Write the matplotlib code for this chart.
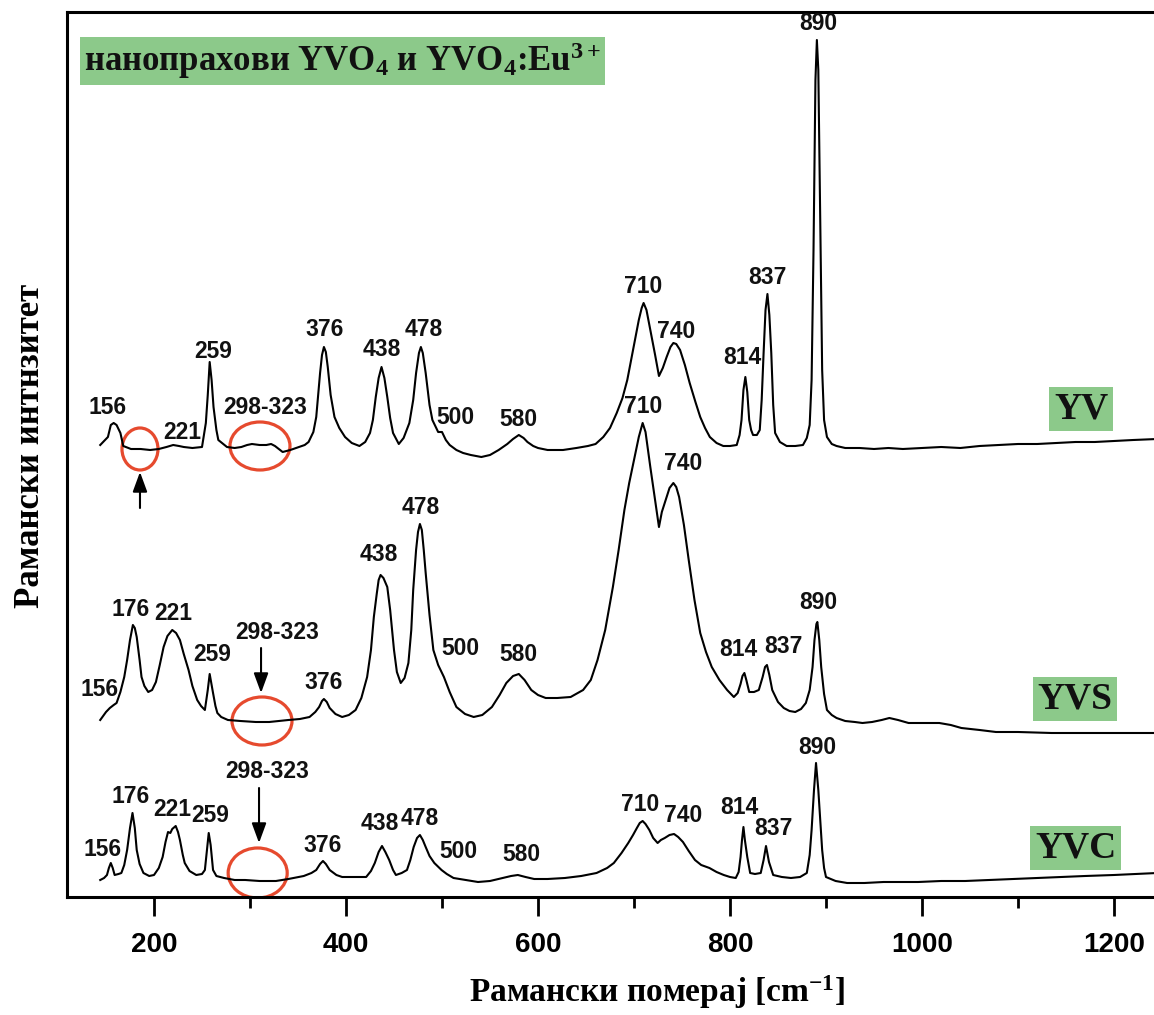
import matplotlib
matplotlib.use("Agg")
import matplotlib.pyplot as plt
from matplotlib.patches import Ellipse
from matplotlib.ticker import MultipleLocator

plt.rcParams['mathtext.fontset'] = 'custom'
plt.rcParams['mathtext.rm'] = 'Liberation Serif:bold'
plt.rcParams['mathtext.it'] = 'Liberation Serif:bold'
plt.rcParams['mathtext.bf'] = 'Liberation Serif:bold'
plt.rcParams['mathtext.default'] = 'rm'

# ---------------- data (Raman shift in cm^-1, intensity in arbitrary units) -------------
yv_x = [144, 152, 155, 158, 161, 165, 168, 176, 186, 196, 205, 213, 220, 226, 231, 240, 250, 254, 256, 258,
        260, 262, 265, 267, 276, 284, 291, 297, 302, 310, 317, 322, 326, 330, 334, 342, 351, 357, 361, 366,
        369, 373, 375, 377, 379, 381, 384, 388, 393, 399, 406, 414, 420, 425, 428, 431, 434, 437, 440, 443,
        446, 449, 455, 460, 466, 470, 473, 476, 478, 480, 483, 487, 490, 496, 500, 504, 508, 515, 522, 530,
        541, 550, 559, 568, 574, 580, 585, 589, 595, 600, 610, 626, 640, 652, 660, 668, 675, 682, 688, 693,
        697, 701, 705, 708, 710, 713, 717, 722, 726, 730, 734, 738, 741, 744, 748, 753, 758, 764, 769, 774,
        779, 786, 793, 800, 807, 810, 812, 814, 816, 818, 820, 822, 824, 828, 831, 833, 835, 837, 839, 841,
        843, 845, 847, 852, 859, 868, 876, 880, 883, 885, 887, 889, 890.5, 892, 894, 896, 898, 901, 906, 911,
        920, 935, 950, 965, 980, 1000, 1020, 1040, 1060, 1080, 1100, 1120, 1140, 1160, 1180, 1200, 1220, 1245]
yv_y = [5, 13, 25, 27, 25, 17, 4, 1, 1, 0, 1, 3, 5, 4, 3, 2, 3, 27, 55, 88,
        70, 43, 20, 10, 3, 2, 3, 5, 6, 5, 5, 6, 4, 1, -2, 0, 3, 5, 8, 18,
        33, 77, 95, 103, 98, 83, 55, 33, 22, 13, 7, 4, 8, 17, 30, 53, 72, 83, 72, 53,
        32, 17, 6, 12, 27, 50, 77, 97, 103, 97, 77, 45, 30, 18, 18, 10, 5, 0, -3, -5,
        -7, -5, 0, 6, 11, 15, 12, 8, 4, 2, 0, 0, 2, 4, 6, 13, 22, 37, 52, 70,
        90, 110, 130, 142, 147, 140, 120, 95, 74, 82, 93, 103, 107, 106, 100, 85, 67, 48, 33, 22,
        13, 7, 4, 4, 5, 15, 30, 60, 73, 58, 30, 20, 15, 15, 20, 50, 97, 140, 156, 135,
        97, 45, 17, 8, 4, 4, 5, 12, 25, 70, 200, 370, 410, 380, 230, 80, 30, 13, 6, 4,
        2, 2, 1, 2, 1, 2, 3, 2, 4, 5, 6, 6, 7, 8, 8, 9, 10, 11]

yvs_x = [144, 150, 154, 158, 161, 165, 169, 172, 175, 178, 180, 182, 185, 187, 190, 194, 198, 202, 206, 210,
         214, 219, 223, 227, 231, 236, 240, 245, 249, 253, 256, 258, 260, 261.5, 264, 266, 270, 277, 290, 306,
         320, 340, 352, 362, 368, 372, 375, 377, 380, 383, 389, 396, 403, 410, 416, 422, 426, 429, 432, 434,
         436, 439, 443, 446, 450, 453, 457, 461, 465, 468, 470, 473, 475, 477, 479, 481, 483, 487, 491, 496,
         502, 508, 515, 524, 533, 542, 552, 560, 567, 574, 580, 586, 593, 600, 608, 620, 634, 647, 655, 662,
         670, 678, 684, 690, 695, 700, 705, 709, 712, 717, 722, 726, 729, 733, 737, 741, 744, 747, 752, 757,
         763, 769, 775, 781, 789, 797, 804, 808, 811, 813, 815, 817, 820, 825, 830, 834, 836.5, 838.5, 841, 844,
         850, 856, 862, 868, 874, 879, 883, 886, 888, 890, 891, 893, 895, 898, 901, 906, 911, 920, 930, 938,
         948, 958, 966, 975, 986, 1000, 1018, 1030, 1041, 1060, 1077, 1100, 1135, 1170, 1210, 1245]
yvs_y = [2, 10, 14, 17, 19, 30, 45, 62, 82, 97, 94, 85, 62, 45, 36, 30, 32, 40, 57, 75,
         86, 92, 89, 82, 68, 52, 36, 22, 16, 12, 32, 48, 37, 29, 16, 9, 5, 2, 1, 0,
         0, 2, 3, 5, 10, 15, 21, 23, 20, 14, 8, 5, 7, 12, 24, 45, 72, 105, 128, 142,
         147, 144, 135, 112, 72, 50, 39, 44, 59, 92, 132, 172, 190, 198, 192, 172, 149, 107, 72, 57,
         45, 30, 15, 8, 5, 7, 15, 27, 39, 46, 48, 42, 32, 27, 24, 24, 25, 32, 42, 62,
         92, 135, 172, 212, 239, 262, 285, 299, 290, 255, 222, 195, 210, 222, 234, 239, 235, 225, 197, 162,
         122, 89, 70, 55, 42, 32, 25, 29, 38, 46, 49, 42, 30, 30, 32, 45, 55, 57, 47, 32,
         20, 14, 11, 10, 13, 19, 32, 55, 82, 98, 100, 82, 55, 28, 12, 7, 4, 1, 0, -1,
         0, 2, 4, 2, -1, -1, -1, -3, -6, -8, -10, -10, -11, -11, -11, -11]

yvc_x = [144, 148, 151, 153, 155, 157, 159, 163, 166, 169, 172, 175, 177.6, 180, 182, 185, 189, 195, 200, 205,
         209, 212, 214.6, 217, 219, 222.6, 225, 227, 230, 232, 237, 244, 250, 253, 255, 257, 259, 261.5, 265, 273,
         284, 295, 310, 327, 340, 356, 364, 369, 373, 376, 379, 383, 390, 396, 410, 421, 426, 430, 434, 437.5,
         441, 445, 449, 452, 458, 463.5, 467, 470.5, 474, 477, 480, 483, 487, 492, 499.5, 505, 512, 525, 537.5, 550,
         563, 572, 579, 587, 596, 610, 628, 645, 661, 672, 679, 687, 694, 699, 703, 706, 709, 712, 716, 720,
         724.6, 728, 732, 737, 741.7, 746, 751, 757, 763.5, 770, 778.6, 786, 793.5, 800, 806, 809, 811, 812.5, 814, 815.5,
         818, 821, 826, 832, 835, 837.5, 840.6, 845, 854, 863.5, 873, 880, 883, 885, 887.5, 889.6, 892, 894, 896, 898,
         900, 910, 922, 940, 960, 980, 996, 1020, 1045, 1070, 1095, 1120, 1143, 1170, 1200, 1245]
yvc_y = [2, 4, 7, 14, 19, 14, 7, 8, 9, 17, 32, 54, 69, 54, 32, 18, 9, 6, 7, 14,
         25, 40, 50, 49, 53, 56, 50, 42, 27, 19, 11, 7, 8, 12, 30, 49, 37, 12, 6, 4,
         2, 2, 1, 1, 3, 6, 9, 12, 18, 21, 18, 12, 7, 5, 5, 5, 11, 19, 30, 36,
         30, 22, 12, 7, 9, 12, 22, 35, 44, 47, 42, 35, 26, 19, 12, 8, 4, 2, 0, 1,
         4, 6, 7, 5, 3, 3, 4, 6, 9, 14, 19, 29, 39, 47, 54, 59, 61, 58, 52, 44,
         39, 42, 44, 47, 48, 45, 40, 31, 22, 17, 14, 10, 7, 5, 4, 10, 25, 42, 55, 42,
         25, 9, 8, 9, 22, 36, 20, 7, 5, 4, 5, 9, 27, 52, 92, 119, 92, 62, 32, 14,
         5, 1, -1, -1, 0, 0, 0, 1, 1, 2, 3, 4, 5, 6, 7, 9]

series_names = ['YV', 'YVS', 'YVC']
series_offsets = [447, 175, 15]

yv_peaks = ['156', '221', '259', '298-323', '376', '438', '478', '500', '580', '710', '740', '814', '837', '890']
yvs_peaks = ['156', '176', '221', '259', '298-323', '376', '438', '478', '500', '580', '710', '740', '814', '837', '890']
yvc_peaks = ['156', '176', '221', '259', '298-323', '376', '438', '478', '500', '580', '710', '740', '814', '837', '890']

# ---------------- layout (label positions in axes data coordinates) -------------
yv_lab_pos = [(152, 489), (229, 464), (261.5, 545), (315.6, 489), (378, 567), (437, 547), (481, 567),
              (514, 479), (580, 477), (710, 610), (744, 565), (812.5, 539), (838.5, 619), (891.7, 873)]
yvs_lab_pos = [(143, 207), (176, 287), (220.5, 283), (260.5, 242), (328, 264), (377, 214), (434, 342),
               (478, 389), (518.7, 248), (580, 242), (709, 490), (751, 433), (809, 247), (855.7, 250), (891.7, 294)]
yvc_lab_pos = [(146, 47), (176, 100), (218.7, 87), (259, 81), (317.7, 125), (376, 51), (435, 73),
               (477, 78), (516.7, 45), (583, 42), (706, 92), (751, 81), (810, 89), (845, 68), (890.6, 149)]
name_pos = [(1165.6, 488), (1159, 198), (1160, 49)]
circles = [(185.4, 448, 37.5, 42), (310.4, 451, 62.5, 48), (312.5, 176, 62.5, 48), (308, 24, 61.5, 50)]
arrows = [((185.4, 389), (185.4, 425)), ((311.5, 249), (311.5, 204)), ((309.4, 109), (309.4, 54))]

GREEN = '#8cc98a'
RED = '#e64a2e'

fig = plt.figure(figsize=(11.54, 10.15), dpi=100)
ax = fig.add_axes([0.05806, 0.11626, 0.94887, 0.87192])

for xs, ys, off in zip([yv_x, yvs_x, yvc_x], [yv_y, yvs_y, yvc_y], series_offsets):
    ax.plot(xs, [v + off for v in ys], color='black', lw=1.5, solid_joinstyle='round')

lab_kw = dict(ha='center', va='center', fontsize=16.5, fontweight='bold', family='Liberation Sans', color='#111111')
for labels, poss in [(yv_peaks, yv_lab_pos), (yvs_peaks, yvs_lab_pos), (yvc_peaks, yvc_lab_pos)]:
    for t, (x, y) in zip(labels, poss):
        ax.text(x, y, t, **lab_kw)

for (cx, cy, w, h) in circles:
    ax.add_patch(Ellipse((cx, cy), w, h, fill=False, edgecolor=RED, lw=2.3))

for tail, tip in arrows:
    ax.annotate('', xy=tip, xytext=tail,
                arrowprops=dict(arrowstyle='-|>,head_length=0.6,head_width=0.22', color='black',
                                lw=1.5, mutation_scale=20, shrinkA=0, shrinkB=0))

for name, (x, y) in zip(series_names, name_pos):
    ax.text(x, y, name, ha='center', va='center', fontsize=27, fontweight='bold', family='Liberation Serif',
            color='#111111', bbox=dict(boxstyle='square,pad=0.12', facecolor=GREEN, edgecolor='none'))

ax.text(127, 836, r'нанопрахови YVO$_4$ и YVO$_4$:Eu$^{3+}$', ha='left', va='center', fontsize=25,
        fontweight='bold', family='Liberation Serif', color='#111111',
        bbox=dict(boxstyle='square,pad=0.1', facecolor=GREEN, edgecolor='none'))

ax.set_xlim(109.375, 1250)
ax.set_ylim(0, 885)
ax.set_yticks([])
ax.xaxis.set_major_locator(MultipleLocator(200))
ax.xaxis.set_minor_locator(MultipleLocator(100))
ax.tick_params(axis='x', which='major', direction='out', length=14, width=2, pad=11,
               labelsize=20)
ax.tick_params(axis='x', which='minor', direction='out', length=8, width=2)
for lab in ax.get_xticklabels():
    lab.set_fontweight('bold')
    lab.set_family('Liberation Sans')
for sp in ax.spines.values():
    sp.set_linewidth(2.2)

fig.text(0.5693, 0.022, r'Рамански померај [cm$^{-1}$]', ha='center', va='center', fontsize=24,
         fontweight='bold', family='Liberation Serif')
fig.text(0.026, 0.5606, 'Рамански интнзитет', ha='center', va='center', rotation=90, fontsize=25,
         fontweight='bold', family='Liberation Serif')

fig.savefig('out.png', dpi=100)
